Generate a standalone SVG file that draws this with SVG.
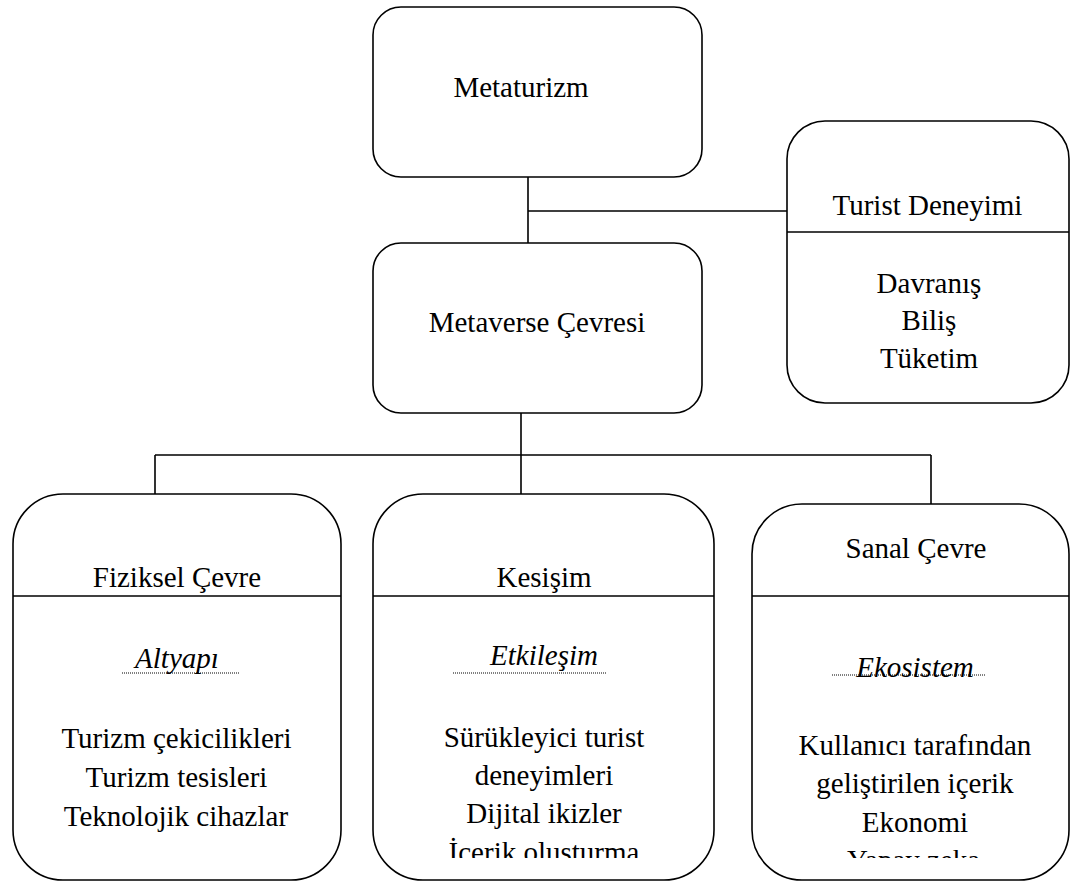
<svg xmlns="http://www.w3.org/2000/svg" width="1070" height="882" viewBox="0 0 1070 882">
<defs>
<style>
.box{fill:#fff;stroke:#000;stroke-width:1.6}
.ln{fill:none;stroke:#000;stroke-width:1.6}
.dot{fill:none;stroke:#000;stroke-width:1;stroke-dasharray:1 1}
</style>
<clipPath id="c1"><rect x="0" y="596" width="1070" height="262"/></clipPath>
</defs>
<rect width="1070" height="882" fill="#fff"/>
<g id="connectors">
<path class="ln" d="M528 177V243M528 211H787M521 413V494M155 455H931M155 455V494M931 455V504"/>
</g>
<g id="metaturizm">
<rect class="box" x="373" y="7" width="329" height="170" rx="28"/>
<text font-family="Liberation Serif, serif" font-size="29" x="453.4" y="97">Metaturizm</text>
</g>
<g id="metaverse">
<rect class="box" x="373" y="243" width="329" height="170" rx="28"/>
<text font-family="Liberation Serif, serif" font-size="29" x="428.7" y="332">Metaverse Çevresi</text>
</g>
<g id="turist">
<rect class="box" x="787" y="121" width="282" height="282" rx="38"/>
<path class="ln" d="M787 232H1069"/>
<text font-family="Liberation Serif, serif" font-size="29" x="832.5" y="215">Turist Deneyimi</text>
<text font-family="Liberation Serif, serif" font-size="29" x="876.6" y="293">Davranış</text>
<text font-family="Liberation Serif, serif" font-size="29" x="901.6" y="330">Biliş</text>
<text font-family="Liberation Serif, serif" font-size="29" x="879.9" y="368">Tüketim</text>
</g>
<g id="fiziksel">
<rect class="box" x="13" y="494" width="328" height="386" rx="50"/>
<path class="ln" d="M13 596H341"/>
<text font-family="Liberation Serif, serif" font-size="29" x="92.8" y="587">Fiziksel Çevre</text>
<text font-family="Liberation Serif, serif" font-size="29" font-style="italic" x="135.1" y="668">Altyapı</text>
<path class="dot" d="M122 673H239"/>
<g clip-path="url(#c1)">
<text font-family="Liberation Serif, serif" font-size="29" x="61.4" y="748">Turizm çekicilikleri</text>
<text font-family="Liberation Serif, serif" font-size="29" x="85.6" y="787">Turizm tesisleri</text>
<text font-family="Liberation Serif, serif" font-size="29" x="63.8" y="826">Teknolojik cihazlar</text>
</g>
</g>
<g id="kesisim">
<rect class="box" x="373" y="494" width="341" height="386" rx="50"/>
<path class="ln" d="M373 596H714"/>
<text font-family="Liberation Serif, serif" font-size="29" x="496.5" y="587">Kesişim</text>
<text font-family="Liberation Serif, serif" font-size="29" font-style="italic" x="490" y="665">Etkileşim</text>
<path class="dot" d="M453 673H607"/>
<g clip-path="url(#c1)">
<text font-family="Liberation Serif, serif" font-size="29" x="443.7" y="747">Sürükleyici turist</text>
<text font-family="Liberation Serif, serif" font-size="29" x="474.7" y="785">deneyimleri</text>
<text font-family="Liberation Serif, serif" font-size="29" x="466.3" y="823">Dijital ikizler</text>
<text font-family="Liberation Serif, serif" font-size="29" x="448.6" y="862">İçerik oluşturma</text>
</g>
</g>
<g id="sanal">
<rect class="box" x="752" y="504" width="317" height="376" rx="50"/>
<path class="ln" d="M752 596H1069"/>
<text font-family="Liberation Serif, serif" font-size="29" x="845.5" y="558">Sanal Çevre</text>
<text font-family="Liberation Serif, serif" font-size="29" font-style="italic" x="856.2" y="677">Ekosistem</text>
<path class="dot" d="M832 675H986"/>
<g clip-path="url(#c1)">
<text font-family="Liberation Serif, serif" font-size="29" x="798.6" y="755">Kullanıcı tarafından</text>
<text font-family="Liberation Serif, serif" font-size="29" x="816.3" y="793">geliştirilen içerik</text>
<text font-family="Liberation Serif, serif" font-size="29" x="861.8" y="832">Ekonomi</text>
<text font-family="Liberation Serif, serif" font-size="29" x="847" y="870">Yapay zeka</text>
</g>
</g>
</svg>
